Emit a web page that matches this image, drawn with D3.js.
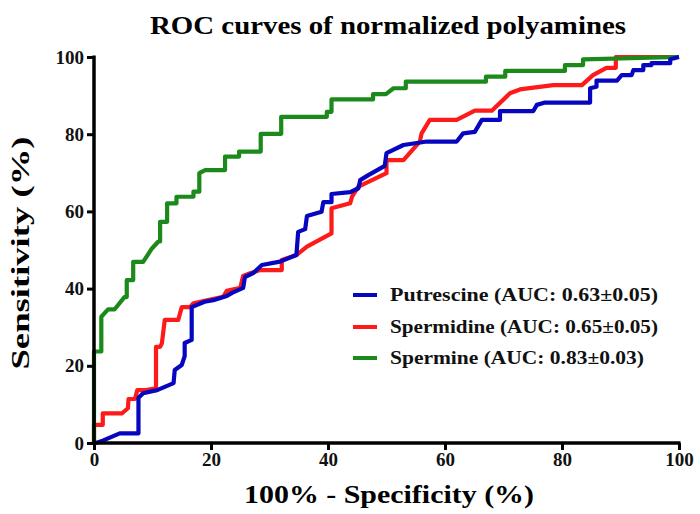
<!DOCTYPE html>
<html><head><meta charset="utf-8">
<script src="https://cdn.jsdelivr.net/npm/d3@7"></script>
<style>body{margin:0;background:#fff}svg{display:block}text{font-family:"Liberation Serif","DejaVu Serif",serif;font-weight:bold}</style>
</head><body>
<svg id="c" width="700" height="514"></svg>
<script>
const title = "ROC curves of normalized polyamines";
const xLabel = "100% - Specificity  (%)";
const yLabel = "Sensitivity (%)";
const tickValues = [0, 20, 40, 60, 80, 100];
const seriesNames = ["Putrescine (AUC: 0.63\u00b10.05)", "Spermidine (AUC: 0.65\u00b10.05)", "Spermine (AUC: 0.83\u00b10.03)"];
const seriesColors = ["#0606c0", "#ff1a1a", "#1b8a1b"];

const putrescineX = [0,0.3,1.5,2.4,4.4,7.6,7.6,8.4,10.8,13.6,13.8,15.0,15.5,15.5,16.7,16.7,18.9,20.4,22.7,23.6,25.5,25.8,27.2,28.7,31.8,34.6,34.9,36.1,36.4,38.9,39.2,40.6,40.6,43.8,45.2,45.5,46.9,49.7,50.0,52.9,56.9,62.0,63.1,65.1,66.3,69.4,69.4,75.1,75.7,77.1,84.8,84.8,85.9,85.9,89.4,90.2,91.9,92.2,93.9,93.9,95.3,95.3,98.5,98.5,100];
const putrescineY = [0,0,0.6,1.2,2.5,2.5,11.7,12.9,13.7,15.5,18.9,20.2,22.5,25.9,26.7,35.2,36.6,37.0,38.1,38.9,40.2,43.0,44.0,46.1,47.0,48.7,54.7,55.4,58.8,59.9,62.4,62.4,64.5,65.0,66.0,68.1,69.4,71.8,75.1,77.2,78.1,78.1,80.2,80.6,83.7,83.7,86.0,86.0,87.6,88.2,88.2,91.9,92.3,93.9,93.9,95.3,95.3,96.6,96.6,97.9,97.9,98.4,98.4,99.4,100];

const spermidineX = [0,0,1.5,1.5,4.8,5.8,5.9,7.0,7.4,8.9,10.6,10.6,11.3,11.6,12.1,14.4,15.0,16.4,17.0,19.3,22.1,22.7,25.0,25.5,26.7,28.4,32.1,32.1,34.6,36.4,40.6,40.6,43.8,44.1,45.2,50.0,50.0,52.9,55.7,56.0,57.4,62.0,65.1,68.0,71.1,72.8,78.5,83.4,85.3,87.6,89.2,89.2,100];
const spermidineY = [0,4.7,4.7,7.7,7.7,9.0,11.4,11.4,13.7,13.7,14.2,24.9,24.9,25.8,31.9,31.9,35.2,35.2,36.2,37.0,37.9,39.4,40.2,43.3,44.0,44.8,44.8,47.4,48.7,50.9,54.3,60.8,62.1,63.8,66.4,69.9,73.3,73.3,78.1,80.2,83.7,83.7,86.1,86.1,90.6,91.6,92.7,92.7,95.3,97.2,97.2,100,100];

const spermineX = [0,0,1.25,1.25,2.4,3.5,5.2,5.6,5.6,6.7,6.7,8.4,9.9,11.0,11.3,11.3,12.5,12.5,14.1,14.1,17.0,17.0,18.0,18.0,19.0,22.4,22.4,24.8,24.8,28.5,28.5,32.0,32.0,39.8,39.8,40.6,40.6,47.7,47.7,49.9,51.2,53.3,53.3,67.0,67.0,70.3,70.3,80.5,80.5,83.6,83.6,100];
const spermineY = [0,23.7,23.7,32.7,34.6,34.6,37.8,37.8,42.2,42.2,46.9,46.9,50.4,52.2,52.2,57.3,57.3,62.1,62.1,63.8,63.8,65.1,65.1,69.9,70.7,70.7,74.2,74.2,75.5,75.5,80.1,80.1,84.5,84.5,85.8,85.8,89.0,89.0,90.4,90.4,91.9,91.9,93.6,93.6,94.9,94.9,96.4,96.4,97.9,97.9,99.4,100];

const svg = d3.select("#c");
const x = d3.scaleLinear().domain([0, 100]).range([94, 679]);
const y = d3.scaleLinear().domain([0, 100]).range([443, 57]);

svg.append("text").attr("x", 388).attr("y", 34).attr("text-anchor", "middle")
  .attr("font-size", 26).attr("textLength", 476).attr("lengthAdjust", "spacingAndGlyphs").text(title);

const series = [
  {name: seriesNames[1], color: seriesColors[1], xs: spermidineX, ys: spermidineY},
  {name: seriesNames[2], color: seriesColors[2], xs: spermineX, ys: spermineY},
  {name: seriesNames[0], color: seriesColors[0], xs: putrescineX, ys: putrescineY}
];
const line = d3.line().x(d => x(d[0])).y(d => y(d[1]));
series.forEach(s => {
  const pts = s.xs.map((v, i) => [v, s.ys[i]]);
  svg.append("path").datum(pts).attr("d", line).attr("fill", "none")
    .attr("stroke", s.color).attr("stroke-width", 4.2).attr("stroke-linejoin", "round");
});

const gx = svg.append("g").attr("transform", "translate(0,443)")
  .call(d3.axisBottom(x).tickValues(tickValues).tickSize(7).tickPadding(3).tickSizeOuter(0));
const gy = svg.append("g").attr("transform", "translate(94,0)")
  .call(d3.axisLeft(y).tickValues(tickValues).tickSize(7).tickPadding(3).tickSizeOuter(0));
[gx, gy].forEach(g => {
  g.select(".domain").attr("stroke", "#000").attr("stroke-width", 3.5);
  g.selectAll(".tick line").attr("stroke", "#000").attr("stroke-width", 3);
  g.selectAll(".tick text").attr("font-size", 19).attr("fill", "#111")
    .attr("font-family", "'Liberation Serif', serif").attr("font-weight", "bold");
});
gx.select(".domain").attr("d", "M" + (x(0) - 1.5) + ",0H" + (x(100) + 1.5));
gy.select(".domain").attr("d", "M0," + (y(100) - 1.5) + "V" + (y(0) + 1.5));

svg.append("text").attr("x", 389).attr("y", 503).attr("text-anchor", "middle")
  .attr("font-size", 26).attr("textLength", 290).attr("lengthAdjust", "spacingAndGlyphs").text(xLabel);
svg.append("text").attr("transform", "translate(29,253) rotate(-90)").attr("text-anchor", "middle")
  .attr("font-size", 26).attr("textLength", 233).attr("lengthAdjust", "spacingAndGlyphs").text(yLabel);

const legendY = [295, 327, 358];
const legendLen = [268, 268, 254];
[0, 1, 2].forEach(i => {
  svg.append("line").attr("x1", 353).attr("x2", 377).attr("y1", legendY[i]).attr("y2", legendY[i])
    .attr("stroke", seriesColors[i]).attr("stroke-width", 4);
  svg.append("text").attr("x", 390).attr("y", legendY[i] + 6).attr("font-size", 19)
    .attr("textLength", legendLen[i]).attr("lengthAdjust", "spacingAndGlyphs").attr("fill", "#111").text(seriesNames[i]);
});
</script>
</body></html>
